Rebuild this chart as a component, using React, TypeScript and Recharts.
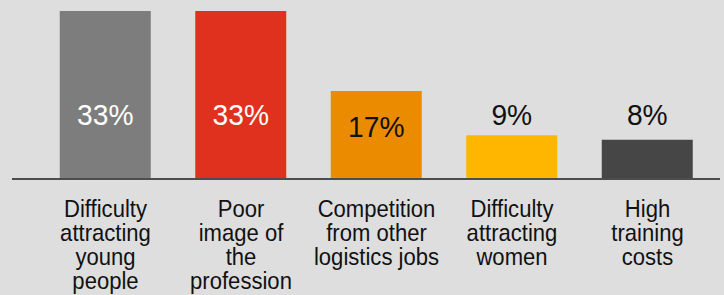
import React from 'react';
import { BarChart, Bar, XAxis, YAxis, Cell, LabelList } from 'recharts';

const categories = [
  'Difficulty\nattracting\nyoung\npeople',
  'Poor\nimage of\nthe\nprofession',
  'Competition\nfrom other\nlogistics jobs',
  'Difficulty\nattracting\nwomen',
  'High\ntraining\ncosts',
];
const values = [33, 33, 17.3, 8.6, 7.7];
const valueLabels = ['33%', '33%', '17%', '9%', '8%'];
const barColors = ['#7d7d7d', '#e0301e', '#eb8c00', '#ffb600', '#464646'];
const labelColors = ['#ffffff', '#ffffff', '#111111', '#111111', '#111111'];

const data = categories.map((c, i) => ({ category: c, value: values[i] }));

const FONT = '"Liberation Sans", Arial, Helvetica, sans-serif';

const CategoryTick = (props: any) => {
  const { x, y, payload } = props;
  const lines = String(payload.value).split('\n');
  return (
    <g transform={`translate(${x},${y})`}>
      <text textAnchor="middle" fontSize={24} fill="#111111" fontFamily={FONT} transform="scale(0.92,1)">
        {lines.map((l, i) => (
          <tspan key={i} x={0} y={38.5 + i * 24}>
            {l}
          </tspan>
        ))}
      </text>
    </g>
  );
};

const ValueLabel = (props: any) => {
  const x = Number(props.x);
  const y = Number(props.y);
  const width = Number(props.width);
  const height = Number(props.height);
  const index = props.index as number;
  const bottom = y + height;
  const cy = height >= 60 ? bottom - Math.min(0.6 * height, 65) : bottom - 65;
  return (
    <text
      transform={`translate(${x + width / 2},${cy + 11}) scale(0.94,1)`}
      x={0}
      y={0}
      textAnchor="middle"
      fontSize={30}
      fontFamily={FONT}
      fill={labelColors[index]}
    >
      {valueLabels[index]}
    </text>
  );
};

export default function App() {
  return (
    <div style={{ position: 'absolute', left: 0, top: 0, width: 724, height: 295, background: '#dedede' }}>
      <BarChart width={724} height={295} data={data} margin={{ top: 11, right: 4, bottom: 0, left: 12 }}>
        <YAxis hide domain={[0, 33]} />
        <Bar dataKey="value" barSize={91} isAnimationActive={false}>
          {data.map((d, i) => (
            <Cell key={i} fill={barColors[i]} />
          ))}
          <LabelList dataKey="value" content={(p: any) => <ValueLabel {...p} />} />
        </Bar>
        <XAxis
          dataKey="category"
          height={116}
          interval={0}
          tickLine={false}
          tickSize={0}
          tickMargin={0}
          axisLine={{ stroke: '#4d4d4d', strokeWidth: 2 }}
          padding={{ left: 25.75, right: 4.75 }}
          tick={<CategoryTick />}
        />
      </BarChart>
    </div>
  );
}
